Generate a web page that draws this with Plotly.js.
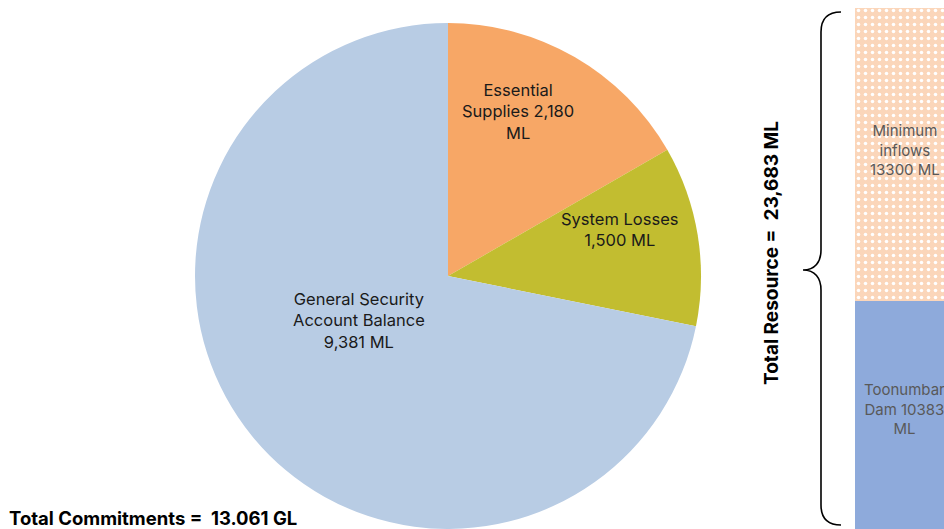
<!DOCTYPE html>
<html>
<head>
<meta charset="utf-8">
<script src="https://cdn.plot.ly/plotly-3.0.1.min.js"></script>
<style>html,body{margin:0;padding:0;background:#fff;}#chart{width:944px;height:529px;}</style>
</head>
<body>
<div id="chart"></div>
<script>
// Commitments (pie)
var commitLabels = ["Essential\nSupplies", "System Losses", "General Security\nAccount Balance"];
var commitValues = [2180, 1500, 9381];
var commitColors = ["#f7a766", "#c2bd30", "#b8cce4"];
// Resource (stacked bar)
var resourceLabels = ["Toonumbar\nDam", "Minimum\ninflows"];
var resourceValues = [10383, 13300];
var totalCommitmentsGL = "13.061";
var totalResourceML = "23,683";

var W = 944, H = 529;
function px(x){ return x / W; }
function py(y){ return 1 - y / H; }
function fmt(v){ return v.toLocaleString("en-US"); }

var FONT = "Inter, 'Noto Sans', sans-serif";

var pie = {
  type: "pie",
  values: commitValues,
  labels: commitLabels,
  marker: {colors: commitColors, line: {width: 0}},
  sort: false,
  direction: "clockwise",
  rotation: 0,
  textinfo: "none",
  hoverinfo: "label+value",
  showlegend: false,
  domain: {x: [px(448 - 253), px(448 + 253)], y: [0, 506 / H]}
};

var totalRes = resourceValues.reduce(function(a,b){return a+b;}, 0);
var barColors = ["#8eaadb", "#fbd6ba"];
var bars = resourceValues.map(function(v, i){
  var t = {
    type: "bar",
    x: [0],
    y: [v],
    width: [1],
    xaxis: "x2",
    yaxis: "y2",
    showlegend: false,
    hoverinfo: "y",
    marker: {color: barColors[i], line: {width: 0}}
  };
  if (i === 1) {
    t.marker.pattern = {shape: ".", bgcolor: "#fbd6ba", fgcolor: "#ffffff", size: 7, solidity: 0.2};
  }
  return t;
});

var labelFont = {family: FONT, size: 16.5, color: "#1a1a1a"};
var barFont = {family: FONT, size: 15, color: "#595959"};
function ann(text, x, y, font, extra){
  var a = {text: text, x: px(x), y: py(y), xref: "paper", yref: "paper", xanchor: "center", yanchor: "middle", showarrow: false, font: font, align: "center"};
  for (var k in (extra || {})) a[k] = extra[k];
  return a;
}
var annotations = [
  ann("Essential<br>Supplies " + fmt(commitValues[0]) + "<br>ML", 518, 111, labelFont),
  ann("System Losses<br>" + fmt(commitValues[1]) + " ML", 620, 230, labelFont),
  ann("General Security<br>Account Balance<br>" + fmt(commitValues[2]) + " ML", 359, 320, labelFont),
  ann("Minimum<br>inflows<br>" + resourceValues[1] + " ML", 905, 150, barFont),
  ann("Toonumbar<br>Dam " + resourceValues[0] + "<br>ML", 904, 409, barFont),
  ann("<b>Total Resource =  " + totalResourceML + " ML</b>", 771, 253, {family: FONT, size: 19, color: "#000"}, {textangle: -90}),
  ann("<b>Total Commitments =  " + totalCommitmentsGL + " GL</b>", 7, 518, {family: FONT, size: 18.5, color: "#000"}, {xanchor: "left"})
];

// curly brace path in paper coords
function P(x, y){ return px(x).toFixed(5) + "," + py(y).toFixed(5); }
var brace = "M " + P(841, 12) +
  " C " + P(828, 12) + " " + P(821, 18) + " " + P(821, 32) +
  " L " + P(821, 250) +
  " C " + P(821, 262) + " " + P(815, 270) + " " + P(803, 270) +
  " C " + P(815, 270) + " " + P(821, 278) + " " + P(821, 290) +
  " L " + P(821, 505) +
  " C " + P(821, 519) + " " + P(828, 525) + " " + P(841, 525);

var layout = {
  width: W, height: H,
  margin: {l: 0, r: 0, t: 0, b: 0},
  paper_bgcolor: "#ffffff",
  plot_bgcolor: "rgba(0,0,0,0)",
  barmode: "stack",
  font: {family: FONT},
  xaxis2: {domain: [px(855), 1], range: [-0.5, 0.3], visible: false, fixedrange: true, anchor: "y2"},
  yaxis2: {domain: [0, 1], range: [0, totalRes * H / 521], visible: false, fixedrange: true, anchor: "x2"},
  annotations: annotations,
  shapes: [{type: "path", path: brace, xref: "paper", yref: "paper", line: {color: "#000", width: 1.6}}]
};

Plotly.newPlot("chart", [pie].concat(bars), layout, {displayModeBar: false, staticPlot: true});
</script>
</body>
</html>
